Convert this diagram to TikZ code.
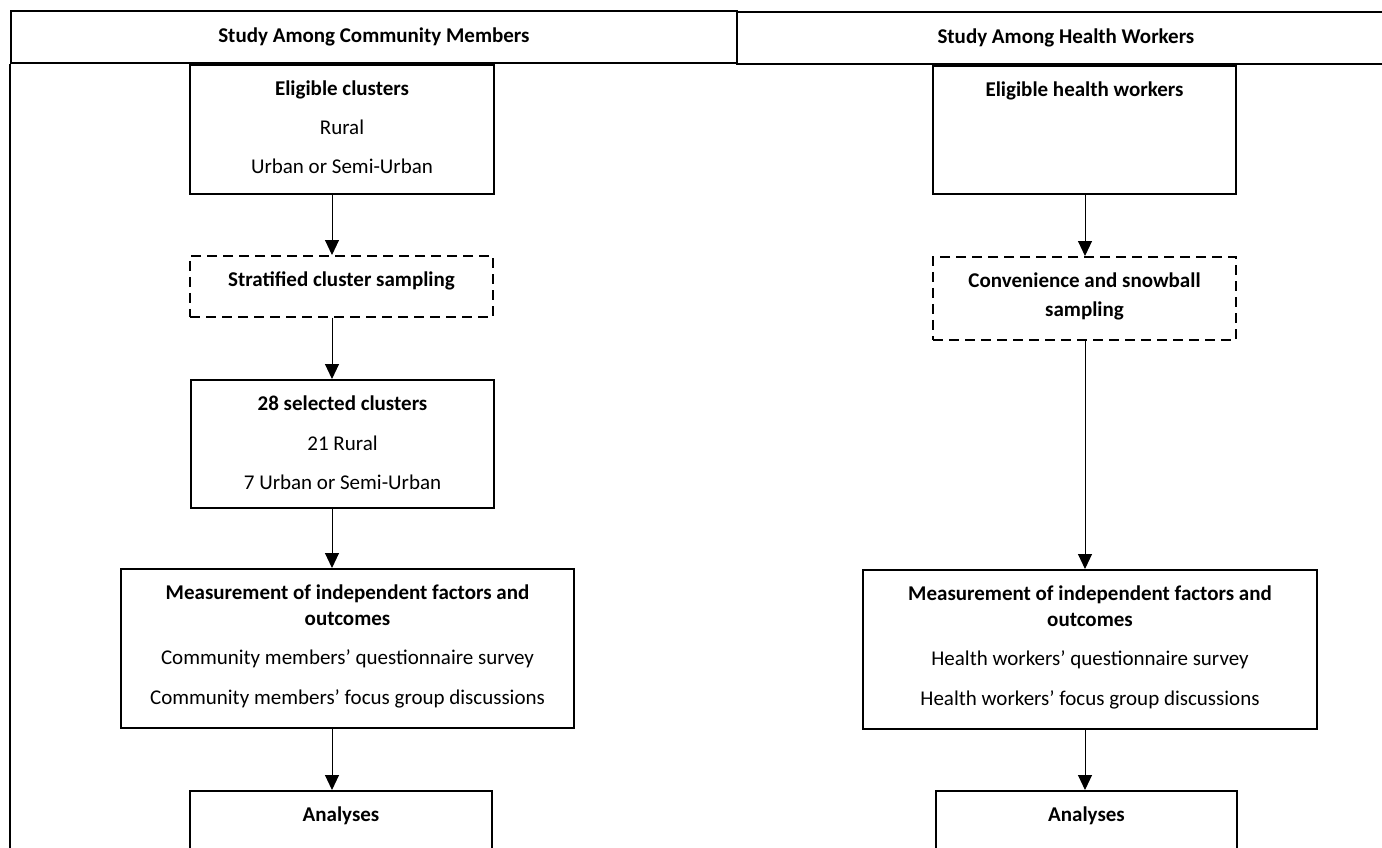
\documentclass[tikz,border=0pt]{standalone}
\usepackage{fontspec}
\setmainfont{Carlito}
\usetikzlibrary{arrows.meta,positioning}
\newcommand\boxlines[1]{\begin{tabular}[t]{@{}c@{}}#1\end{tabular}}
\tikzset{
  hdr/.style={draw,line width=1.8pt,minimum height=52pt,inner sep=0pt,anchor=north west,
    font=\bfseries\fontsize{21}{26}\selectfont},
  box/.style={draw,line width=1.6pt,anchor=north,inner sep=0pt,
    text height=31pt,font=\fontsize{21}{26}\selectfont},
  dbox/.style={box,dash pattern=on 10pt off 6pt},
  arr/.style={line width=1pt,-{Triangle[length=15pt,width=14pt]}},
  frame/.style={line width=1.8pt},
}
\begin{document}
\begin{tikzpicture}[x=1pt,y=-1pt]
    \useasboundingbox (0,0) rectangle (1382,847);
    \clip (0,0) rectangle (1382,847);
    % ---- header row ----
    \node[hdr,minimum width=726pt] (hdrCM) at (10,10) {Study Among Community Members};
    \node[hdr,minimum width=658pt] (hdrHW) at (736,11) {Study Among Health Workers};
    \draw[frame] (hdrCM.south west) -- ++(0,820);
    % ---- left: community members ----
    \begin{scope}
      \coordinate (aL) at (332,0);
      \node[box,minimum width=304pt,text depth=98pt] (elig) at (342,64)
        {\boxlines{\textbf{Eligible clusters}\\[13pt]Rural\\[13pt]Urban or Semi-Urban}};
      \node[dbox,minimum width=303pt,text depth=30pt] (strat) at (341.5,255)
        {\textbf{Stratified cluster sampling}};
      \node[box,minimum width=303pt,text depth=97pt] (sel) at (342.5,379)
        {\boxlines{\textbf{28 selected clusters}\\[14pt]21 Rural\\[13pt]7 Urban or Semi-Urban}};
      \node[box,minimum width=453pt,text depth=128pt] (meas) at (347.5,568)
        {\boxlines{\textbf{Measurement of independent factors and}\\\textbf{outcomes}\\[13pt]%
         Community members’ questionnaire survey\\[14pt]Community members’ focus group discussions}};
      \node[box,minimum width=302pt,text depth=100pt] (anal) at (341,790) {\textbf{Analyses}};
      \draw[arr] (elig.south -| aL) -- (strat.north -| aL);
      \draw[arr] (strat.south -| aL) -- (sel.north -| aL);
      \draw[arr] (sel.south -| aL) -- (meas.north -| aL);
      \draw[arr] (meas.south -| aL) -- (anal.north -| aL);
    \end{scope}
    % ---- right: health workers ----
    \begin{scope}
      \coordinate (aR) at (1085,0);
      \node[box,minimum width=303pt,text depth=97pt] (eligHW) at (1084.5,65)
        {\textbf{Eligible health workers}};
      \node[dbox,minimum width=303pt,text depth=52pt] (conv) at (1084.5,256)
        {\boxlines{\textbf{Convenience and snowball}\\[3pt]\textbf{sampling}}};
      \node[box,minimum width=454pt,text depth=128pt] (measHW) at (1090,569)
        {\boxlines{\textbf{Measurement of independent factors and}\\\textbf{outcomes}\\[13pt]%
         Health workers’ questionnaire survey\\[14pt]Health workers’ focus group discussions}};
      \node[box,minimum width=301pt,text depth=100pt] (analHW) at (1086.5,790) {\textbf{Analyses}};
      \draw[arr] (eligHW.south -| aR) -- (conv.north -| aR);
      \draw[arr] (conv.south -| aR) -- (measHW.north -| aR);
      \draw[arr] (measHW.south -| aR) -- (analHW.north -| aR);
    \end{scope}
\end{tikzpicture}
\end{document}
